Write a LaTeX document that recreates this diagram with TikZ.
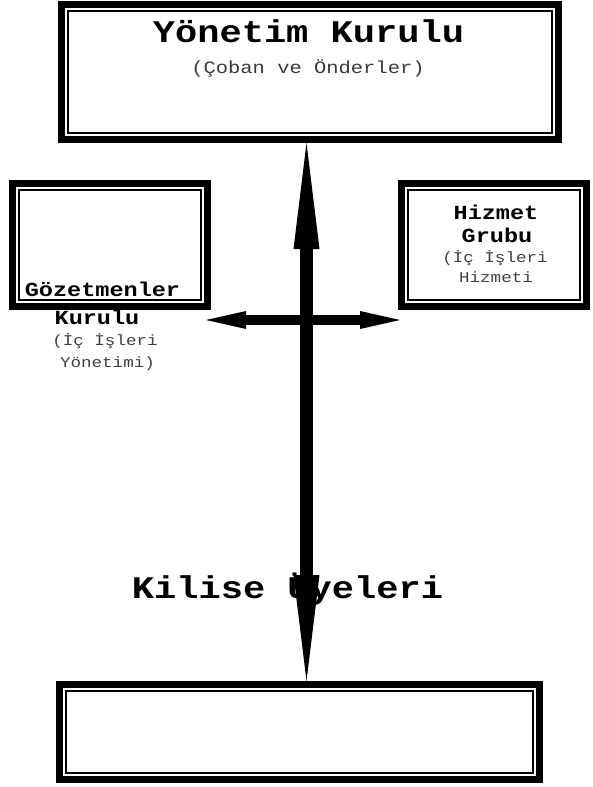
\documentclass[tikz,border=0pt]{standalone}
\usepackage{fontspec}
\setmainfont{Liberation Mono}[FakeStretch=1.176]
\usetikzlibrary{arrows.meta}
\tikzset{
  vtip/.tip={Triangle[length=106pt,width=26pt,line width=0pt]},
  htip/.tip={Triangle[length=40pt,width=18pt,line width=0pt]}}
\begin{document}
\begin{tikzpicture}[x=1pt,y=-1pt,
  inner/.style={draw=black,line width=2pt,inner sep=0pt},
  outer/.style={draw=black,line width=7pt,inner sep=0pt},
  big/.style={font=\fontsize{31.5}{38}\selectfont\bfseries,inner sep=0pt,anchor=base},
  sub/.style={font=\fontsize{17.4}{21}\selectfont,text=black!78,inner sep=0pt,anchor=base},
  lab/.style={font=\fontsize{20}{24}\selectfont\bfseries,inner sep=0pt,anchor=base},
  note/.style={font=\fontsize{14.9}{18}\selectfont,text=black!75,inner sep=0pt,anchor=base}]
\useasboundingbox (0,0) rectangle (592,787);
% texts
\node[big] (t1) at (308.5,42) {Yönetim Kurulu};
\node[sub] (t2) at (308,73) {(Çoban ve Önderler)};
\node[lab] (g1) at (102.5,296) {Gözetmenler};
\node[lab] (g2) at (97,324) {Kurulu};
\node[note] (g3) at (105,345) {(İç İşleri};
\node[note] (g4) at (107.5,367) {Yönetimi)};
\node[lab] (h1) at (496,219) {Hizmet};
\node[lab] (h2) at (497,242) {Grubu};
\node[note] (h3) at (495,262) {(İç İşleri};
\node[note] (h4) at (496,282) {Hizmeti};
\node[big] (k1) at (287.5,598) {Kilise Üyeleri};
% boxes
\node[inner,minimum width=484pt,minimum height=122pt] (top) at (310,72) {};
\node[outer,minimum width=497pt,minimum height=135pt] (topo) at (top) {};
\node[inner,minimum width=182pt,minimum height=110pt] (gz) at (110,245) {};
\node[outer,minimum width=195pt,minimum height=123pt] (gzo) at (gz) {};
\node[inner,minimum width=172pt,minimum height=110pt] (hz) at (494,245) {};
\node[outer,minimum width=185pt,minimum height=123pt] (hzo) at (hz) {};
\node[inner,minimum width=467pt,minimum height=82pt] (ku) at (299.5,732) {};
\node[outer,minimum width=480pt,minimum height=95pt] (kuo) at (ku) {};
% arrows
\coordinate (ax) at (306.5,0);
\draw[line width=13pt,vtip-vtip] (topo.south -| ax) -- (kuo.north -| ax);
\coordinate (hl) at (206,320);
\coordinate (hr) at (400,320);
\draw[line width=10pt,htip-htip] (hl) -- (hr);
\end{tikzpicture}
\end{document}
